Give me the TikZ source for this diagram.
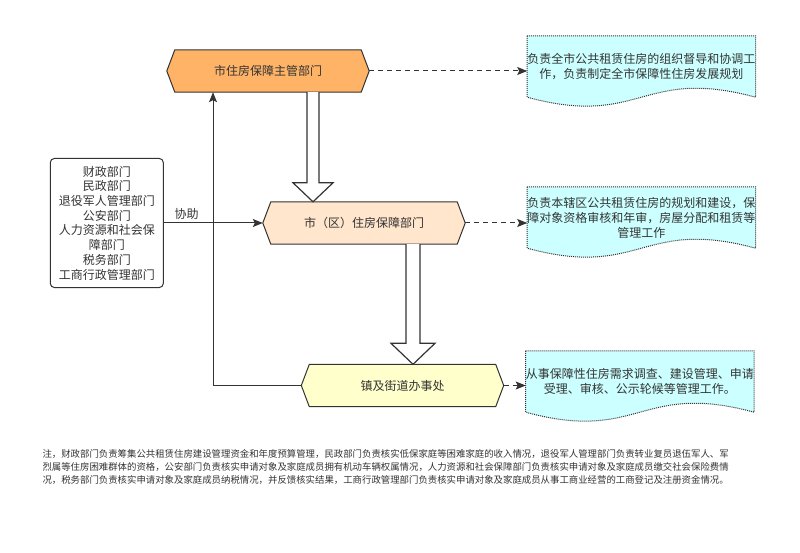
\documentclass[tikz,border=0pt]{standalone}
\usepackage{fontspec}
\setmainfont{Noto Sans CJK SC}
\usepackage{tikz}
\usetikzlibrary{arrows.meta,positioning,backgrounds,calc}
\usepackage{xcolor}

\definecolor{lineC}{HTML}{333333}
\definecolor{orangeC}{HTML}{FFB366}
\definecolor{peachC}{HTML}{FFE6CC}
\definecolor{yellowC}{HTML}{FFFFCC}
\definecolor{cyanC}{HTML}{CCFFFF}

\tikzset{
  hexbox/.style={rectangle, minimum width=202pt, minimum height=42pt,
    inner sep=0pt, text=lineC, font=\fontsize{12}{14.5}\selectfont},
  hexline/.style={draw=lineC, line width=1pt, line join=miter},
  docbox/.style={rectangle, minimum width=227pt, minimum height=61pt,
    inner sep=0pt, align=center, text=lineC,
    font=\fontsize{12}{15}\selectfont},
  docline/.style={draw=lineC, fill=cyanC, line width=1pt,
    dash pattern=on 1pt off 1pt},
  deptbox/.style={rectangle, rounded corners=4pt, draw=lineC, line width=1pt,
    minimum width=113pt, minimum height=129pt, align=center, text=lineC,
    font=\fontsize{12}{14.7}\selectfont},
  arr/.style={draw=lineC, line width=1pt,
    -{Stealth[length=10pt,width=8pt,inset=2pt]}},
  dasharr/.style={arr, dash pattern=on 5pt off 4pt},
  hollow/.style={draw=lineC, fill=white, line width=1.2pt, line join=miter}
}

\begin{document}
\begin{tikzpicture}[x=1pt, y=-1pt]
  \useasboundingbox (0,0) rectangle (800,553);

  % 三级机构
  \node (tophex) [hexbox] at (268,71) {市住房保障主管部门};
  \node (midhex) [hexbox] at (364,223) {市（区）住房保障部门};
  \node (townhex) [hexbox] at (402.5,385.5) {镇及街道办事处};
  \begin{scope}[on background layer]
    \foreach \h/\c in {tophex/orangeC, midhex/peachC, townhex/yellowC}
      \draw[hexline, fill=\c] (\h.west) -- ($(\h.north west)+(8,0)$)
        -- ($(\h.north east)+(-8,0)$) -- (\h.east)
        -- ($(\h.south east)+(-8,0)$) -- ($(\h.south west)+(8,0)$) -- cycle;
  \end{scope}

  % 职责说明
  \node (doc1) [docbox, right=158pt of tophex, yshift=4.5pt]
    {负责全市公共租赁住房的组织督导和协调工\\作，负责制定全市保障性住房发展规划};
  \node (doc2) [docbox, right=62pt of midhex, yshift=5.5pt]
    {负责本辖区公共租赁住房的规划和建设，保\\障对象资格审核和年审，房屋分配和租赁等\\管理工作};
  \node (doc3) [docbox, right=22pt of townhex, yshift=4pt]
    {从事保障性住房需求调查、建设管理、申请\\受理、审核、公示轮候等管理工作。};
  \begin{scope}[on background layer]
    \foreach \d in {doc1,doc2,doc3}
      \draw[docline] (\d.north west) -- (\d.north east) -- (\d.south east)
        .. controls ($(\d.south)+(0,-31)$) and ($(\d.south)+(0,31)$) .. (\d.south west) -- cycle;
  \end{scope}

  % 协助部门
  \node (dept) [deptbox, left=99pt of midhex]
    {财政部门\\民政部门\\退役军人管理部门\\公安部门\\人力资源和社会保\\障部门\\税务部门\\工商行政管理部门};

  % 连线
  \draw[dasharr] (tophex.east) -- (tophex.east -| doc1.west);
  \draw[dasharr] (midhex.east) -- (midhex.east -| doc2.west);
  \draw[dasharr] (townhex.east) -- (townhex.east -| doc3.west);
  \draw[arr] (dept.east |- midhex.west) -- node[above, pos=0.23, text=lineC,
    font=\fontsize{12}{14}\selectfont] {协助} (midhex.west);
  \draw[arr, {Stealth[length=10pt,width=8pt,inset=2pt]}-] ($(tophex.south)+(-55,0)$) |- (townhex.west);

  % 下达箭头
  \coordinate (h1s) at ($(tophex.south)+(45,0)$);
  \coordinate (h1t) at (h1s |- midhex.north);
  \draw[hollow] ($(h1s)+(-6,0)$) -- ($(h1t)+(-6,-19)$) -- ($(h1t)+(-20,-19)$) -- (h1t)
    -- ($(h1t)+(20,-19)$) -- ($(h1t)+(6,-19)$) -- ($(h1s)+(6,0)$);
  \coordinate (h2s) at ($(midhex.south)+(49,0)$);
  \coordinate (h2t) at (h2s |- townhex.north);
  \draw[hollow] ($(h2s)+(-7,0)$) -- ($(h2t)+(-7,-21)$) -- ($(h2t)+(-22,-21)$) -- (h2t)
    -- ($(h2t)+(22,-21)$) -- ($(h2t)+(7,-21)$) -- ($(h2s)+(7,0)$);

  % 注释
  \node (note) [anchor=north west, align=left, text=lineC,
    font=\fontsize{9.4}{13}\selectfont] at (39,446)
    {注，财政部门负责筹集公共租赁住房建设管理资金和年度预算管理，民政部门负责核实低保家庭等困难家庭的收入情况，退役军人管理部门负责转业复员退伍军人、军\\
     烈属等住房困难群体的资格，公安部门负责核实申请对象及家庭成员拥有机动车辆权属情况，人力资源和社会保障部门负责核实申请对象及家庭成员缴交社会保险费情\\
     况，税务部门负责核实申请对象及家庭成员纳税情况，并反馈核实结果，工商行政管理部门负责核实申请对象及家庭成员从事工商业经营的工商登记及注册资金情况。};
\end{tikzpicture}
\end{document}
